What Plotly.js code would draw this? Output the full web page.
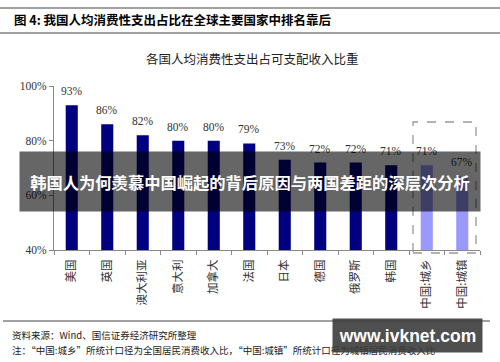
<!DOCTYPE html>
<html>
<head>
<meta charset="utf-8">
<script src="https://cdn.plot.ly/plotly-3.0.1.min.js"></script>
<style>html,body{margin:0;padding:0;background:#fff;}#chart{width:500px;height:362px;}</style>
</head>
<body>
<div id="chart"></div>
<script>
// ---- data ----
const categories = ["美国","英国","澳大利亚","意大利","加拿大","法国","日本","德国","俄罗斯","韩国","中国:城乡","中国:城镇"];
const values = [93, 86, 82, 80, 80, 79, 73, 72, 72, 71, 71, 67];
const isChina = [false,false,false,false,false,false,false,false,false,false,true,true];
const yTickVals = [40, 60, 80, 100];
const yTickText = ["40%", "60%", "80%", "100%"];
const headerText = "图 4: 我国人均消费性支出占比在全球主要国家中排名靠后";
const chartTitle = "各国人均消费性支出占可支配收入比重";
const sourceText = "资料来源：Wind、国信证券经济研究所整理";
const noteText = "注：“中国:城乡”所统计口径为全国居民消费收入比，“中国:城镇”所统计口径为城镇居民消费收入比";
const bannerText = "韩国人为何羡慕中国崛起的背后原因与两国差距的深层次分析";
const watermarkText = "www.ivknet.com";

// ---- layout helpers (pixel -> paper) ----
const M = {l: 54, r: 20, t: 86, b: 112};
const PW = 500 - M.l - M.r, PH = 362 - M.t - M.b;
const px = x => (x - M.l) / PW;
const py = y => (362 - M.b - y) / PH;

const CJK = '"Noto Sans CJK SC", sans-serif';
const SERIF = '"Liberation Serif", "DejaVu Serif", serif';

const trace = {
  type: 'bar',
  x: categories,
  y: values,
  width: 0.34,
  marker: {color: isChina.map(c => c ? '#9999FF' : '#000080')},
  hoverinfo: 'skip'
};

const annotations = values.map((v, i) => ({
  x: categories[i], y: v, xref: 'x', yref: 'y',
  text: v + '%', showarrow: false, yshift: 14,
  font: {family: SERIF, size: 11.5, color: '#333'}
}));

annotations.push(
  {xref: 'paper', yref: 'paper', x: px(12), y: py(19), xanchor: 'left', yanchor: 'middle',
   text: headerText, showarrow: false, font: {family: CJK, size: 12.5, color: '#000', weight: 'bold'}},
  {xref: 'paper', yref: 'paper', x: px(252), y: py(58), xanchor: 'center', yanchor: 'middle',
   text: chartTitle, showarrow: false, font: {family: CJK, size: 12.5, color: '#222'}},
  {xref: 'paper', yref: 'paper', x: px(10), y: py(335), xanchor: 'left', yanchor: 'middle',
   text: sourceText, showarrow: false, font: {family: CJK, size: 9.5, color: '#222'}},
  {xref: 'paper', yref: 'paper', x: px(10), y: py(350), xanchor: 'left', yanchor: 'middle',
   text: noteText, showarrow: false, font: {family: CJK, size: 9.5, color: '#222'}},
  {xref: 'paper', yref: 'paper', x: px(250), y: py(181.5), xanchor: 'center', yanchor: 'middle',
   text: bannerText, showarrow: false, width: 460, height: 59, borderpad: 0,
   bgcolor: 'rgba(0,0,0,0.6)', font: {family: CJK, size: 16.3, color: '#fff', weight: 'bold'}},
  {xref: 'paper', yref: 'paper', x: px(407.5), y: py(335.5), xanchor: 'center', yanchor: 'middle',
   text: watermarkText, showarrow: false, width: 149, height: 33, borderpad: 0,
   bgcolor: 'rgba(60,60,60,0.9)', font: {family: '"Liberation Sans", Arial, sans-serif', size: 17.5, color: '#fff', weight: 'bold'}}
);

const shapes = [
  {type: 'line', xref: 'paper', yref: 'paper', x0: px(0), x1: px(500), y0: py(8), y1: py(8), line: {color: '#444', width: 1}},
  {type: 'line', xref: 'paper', yref: 'paper', x0: px(0), x1: px(500), y0: py(33), y1: py(33), line: {color: '#444', width: 1}},
  {type: 'line', xref: 'paper', yref: 'paper', x0: px(3), x1: px(490), y0: py(321), y1: py(321), line: {color: '#444', width: 1}},
  {type: 'rect', xref: 'paper', yref: 'paper', x0: px(413), x1: px(476), y0: py(253), y1: py(122),
   line: {color: '#999', width: 1.3, dash: 'dash'}, fillcolor: 'rgba(0,0,0,0)'}
];

const layout = {
  width: 500, height: 362,
  margin: M,
  paper_bgcolor: '#fff', plot_bgcolor: '#fff',
  showlegend: false,
  xaxis: {
    type: 'category',
    range: [-0.5, categories.length - 0.5],
    tickangle: -90,
    ticks: 'outside', tickson: 'boundaries', ticklen: 4, tickcolor: '#888',
    showline: true, linecolor: '#888', linewidth: 1,
    showgrid: false, zeroline: false,
    ticklabelstandoff: 4,
    tickfont: {family: CJK, size: 11.5, color: '#333'}
  },
  yaxis: {
    range: [40, 100],
    tickvals: yTickVals, ticktext: yTickText,
    ticks: 'outside', ticklen: 4, tickcolor: '#888',
    showline: true, linecolor: '#888', linewidth: 1,
    showgrid: false, zeroline: false,
    tickfont: {family: SERIF, size: 11.5, color: '#333'}
  },
  annotations: annotations,
  shapes: shapes
};

Plotly.newPlot('chart', [trace], layout, {staticPlot: true, displayModeBar: false});
</script>
</body>
</html>
